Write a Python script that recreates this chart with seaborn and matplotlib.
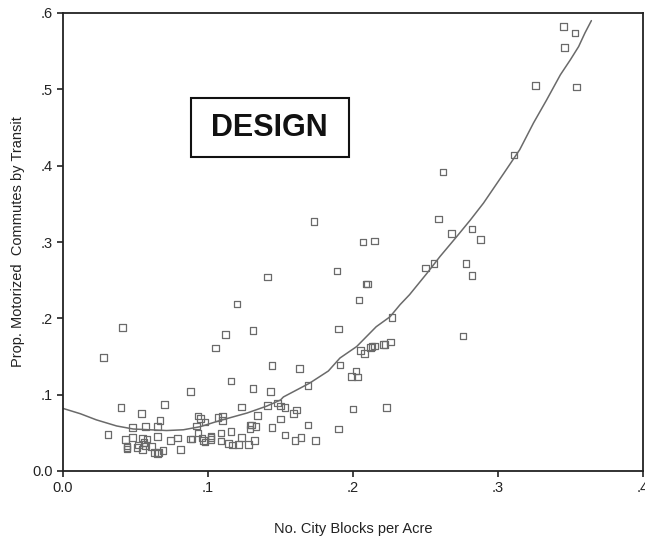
import numpy as np
import pandas as pd
import matplotlib
matplotlib.use('Agg')
import matplotlib.pyplot as plt
import seaborn as sns
from matplotlib.patches import Rectangle

# ==================== data ====================
blocks_per_acre = [
    .028, .041, .040, .031, .054, .048, .057, .065, .067, .070,
    .065, .048, .043, .044, .044, .044, .051, .052, .055, .058,
    .056, .055, .057, .061, .063, .065, .066, .069, .074, .079,
    .081, .088, .088, .089, .092, .093, .095, .093, .098, .096,
    .097, .098, .102, .102, .102, .105, .107, .110, .110, .109,
    .109, .112, .131, .116, .144, .163, .131, .143, .123, .141,
    .148, .150, .153, .134, .161, .159, .150, .169, .191, .202,
    .199, .203, .200, .190, .169, .144, .129, .130, .129, .133,
    .153, .164, .160, .174, .116, .123, .114, .117, .121, .128,
    .132, .173, .207, .215, .141, .189, .209, .210, .204, .120,
    .227, .190, .262, .259, .268, .282, .288, .250, .256, .278,
    .282, .276, .205, .208, .212, .213, .215, .221, .222, .226,
    .223, .311, .345, .353, .346, .326, .354,
]
prop_transit = [
    .149, .188, .083, .048, .075, .057, .058, .058, .066, .087,
    .045, .044, .041, .033, .031, .029, .031, .034, .043, .042,
    .037, .028, .033, .032, .024, .023, .024, .027, .040, .043,
    .028, .104, .042, .042, .059, .072, .069, .050, .064, .043,
    .040, .038, .046, .044, .041, .161, .070, .072, .066, .050,
    .039, .179, .184, .118, .138, .134, .108, .104, .084, .086,
    .089, .085, .083, .073, .080, .075, .068, .112, .139, .131,
    .124, .123, .081, .055, .060, .057, .060, .060, .055, .058,
    .047, .044, .040, .040, .052, .044, .036, .034, .035, .035,
    .040, .327, .300, .301, .254, .262, .245, .245, .224, .219,
    .201, .186, .392, .330, .311, .317, .303, .266, .272, .272,
    .256, .177, .158, .154, .162, .163, .164, .166, .166, .169,
    .083, .414, .582, .574, .555, .505, .503,
]

# smoothed fit line
fit_x = [0, .012, .023, .037, .0485, .060, .0715, .083, .0945, .108,
         .127, .1405, .150, .152, .170, .183, .191, .2025, .216, .2255,
         .2325, .239, .251, .260, .2715, .281, .290, .304, .315, .3245,
         .3335, .343, .350, .3556, .360, .3644]
fit_y = [.082, .075, .067, .059, .055, .054, .053, .054, .058, .066,
         .076, .085, .093, .097, .115, .131, .148, .163, .189, .202,
         .218, .231, .259, .281, .307, .329, .351, .390, .421, .456,
         .486, .519, .539, .556, .574, .590]

x_ticks = [0, .1, .2, .3, .4]
x_ticklabels = ['0.0', '.1', '.2', '.3', '.4']
y_ticks = [0, .1, .2, .3, .4, .5, .6]
y_ticklabels = ['0.0', '.1', '.2', '.3', '.4', '.5', '.6']

df = pd.DataFrame({'blocks': blocks_per_acre, 'transit': prop_transit})
fit = pd.DataFrame({'blocks': fit_x, 'transit': fit_y})

# ==================== style ====================
sns.set_style("ticks")
plt.rcParams['font.family'] = ['Liberation Sans', 'DejaVu Sans']

fig = plt.figure(figsize=(6.45, 5.39), dpi=100)
ax = fig.add_axes([63 / 645, 1 - 471 / 539, 580 / 645, 458 / 539])

sns.scatterplot(data=df, x='blocks', y='transit', ax=ax, marker='s', s=22,
                facecolor='none', edgecolor='#6a6a6a', linewidth=0.9)
sns.lineplot(data=fit, x='blocks', y='transit', ax=ax, sort=False,
             estimator=None, color='#6a6a6a', linewidth=1.1)

ax.set_xlim(0, .4)
ax.set_ylim(0, .6)
ax.set_xticks(x_ticks)
ax.set_xticklabels(x_ticklabels)
ax.set_yticks(y_ticks)
ax.set_yticklabels(y_ticklabels)
ax.tick_params(labelsize=10.5, colors='#222222', length=4, width=1.2)

for side in ['left', 'bottom', 'top', 'right']:
    ax.spines[side].set_visible(True)
    ax.spines[side].set_color('#222222')
    ax.spines[side].set_linewidth(1.3)

ax.set_xlabel('No. City Blocks per Acre', fontsize=10.5, color='#222222')
ax.set_ylabel('Prop. Motorized  Commutes by Transit', fontsize=10.5, color='#222222')
ax.xaxis.set_label_coords(0.5, -0.112)
ax.yaxis.set_label_coords(-0.066, 0.5)

# DESIGN box
ax.add_patch(Rectangle((.088, .411), .109, .078, fill=False,
                       edgecolor='#111111', linewidth=1.5, zorder=5))
ax.text(.1425, .45, 'DESIGN', fontsize=22, fontweight='bold',
        ha='center', va='center', color='#111111', zorder=6)

fig.savefig('out.png', dpi=100)
